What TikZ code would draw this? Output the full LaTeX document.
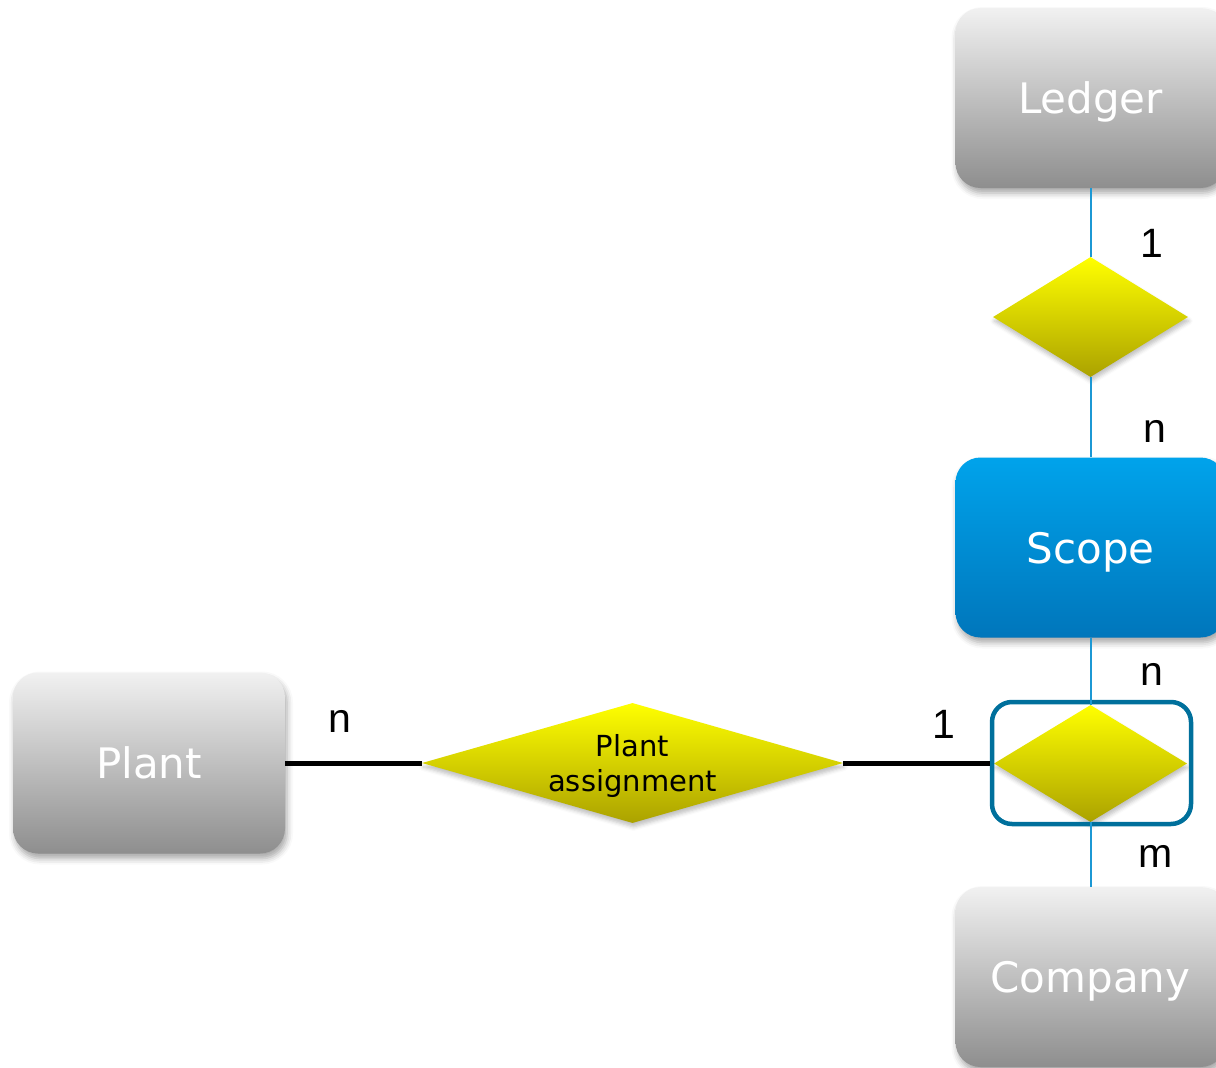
\documentclass[tikz,border=0pt]{standalone}
\usepackage{fontspec}
\setmainfont{DejaVu Sans}
\newfontfamily\lblfont{Liberation Sans}
\usetikzlibrary{shapes.geometric,shadows.blur}

\definecolor{grayTop}{HTML}{F1F1F1}
\definecolor{grayBot}{HTML}{8E8E8E}
\definecolor{blueTop}{HTML}{00A3EB}
\definecolor{blueBot}{HTML}{0076BB}
\definecolor{ylwTop}{HTML}{FFFF00}
\definecolor{ylwMid}{HTML}{EEEB00}
\definecolor{ylwBot}{HTML}{ABA200}
\definecolor{linkBlue}{HTML}{1C98D4}
\definecolor{frameBlue}{HTML}{00709C}

\tikzset{
  entity/.style={rectangle, rounded corners=25pt, minimum width=270pt,
    minimum height=180pt, text=white, font=\fontsize{42}{48}\selectfont,
    text height=31pt, text depth=0pt,
    blur shadow={shadow xshift=2pt, shadow yshift=-5pt,
      shadow blur radius=6pt, shadow opacity=35}},
  grayentity/.style={entity, top color=grayTop, bottom color=grayBot},
  blueentity/.style={entity, top color=blueTop, bottom color=blueBot},
  relation/.style={diamond, inner sep=0pt, top color=ylwTop,
    middle color=ylwMid, bottom color=ylwBot,
    blur shadow={shadow xshift=1pt, shadow yshift=-4pt,
      shadow blur radius=4pt, shadow opacity=25}},
  bluelink/.style={draw=linkBlue, line width=2pt},
  blacklink/.style={draw=black, line width=5pt},
  card/.style={font=\lblfont\fontsize{41}{46}\selectfont, inner sep=0pt},
}

\begin{document}
\begin{tikzpicture}[x=1pt, y=-1pt]
  \useasboundingbox (0,0) rectangle (1216,1068);

  % entities
  \node[grayentity] (ledger) at (1090.5,98) {Ledger};
  \node[blueentity] (scope) at (1090.5,547.5) {Scope};
  \node[grayentity] (company) at (1090.5,977) {Company};
  \node[grayentity, minimum width=272pt, minimum height=181pt] (plant) at (149,763) {Plant};

  % relationships
  \node[relation, minimum width=195pt, minimum height=120pt] (rel1) at (1090.5,317) {};
  \node[relation, minimum width=193pt, minimum height=117pt] (rel2) at (1090.5,763.5) {};
  \node[relation, minimum width=421pt, minimum height=120pt] (assign) at (632.5,763) {};
  \node[align=center, inner sep=0pt, font=\fontsize{29}{35}\selectfont]
        (assigntext) at (632.5,766) {Plant\\assignment};

  % frame around the scope/company relationship
  \node[draw=frameBlue, line width=4.5pt, rounded corners=20pt,
        minimum width=199pt, minimum height=122pt] (frame) at (1091.5,763) {};

  % connectors
  \draw[bluelink] (ledger.south) -- (rel1.north);
  \draw[bluelink] (rel1.south) -- (scope.north);
  \draw[bluelink] (scope.south) -- (rel2.north);
  \draw[bluelink] (rel2.south) -- (company.north);
  \draw[blacklink] (plant.east) -- (assign.west);
  \draw[blacklink] (assign.east) -- (frame.west);

  % cardinalities
  \node[card] (c1) at (1152,243) {1};
  \node[card] (c2) at (1155,431) {n};
  \node[card] (c3) at (1152,674) {n};
  \node[card] (c4) at (944,724) {1};
  \node[card] (c5) at (1156,856) {m};
  \node[card] (c6) at (340,721) {n};
\end{tikzpicture}
\end{document}
